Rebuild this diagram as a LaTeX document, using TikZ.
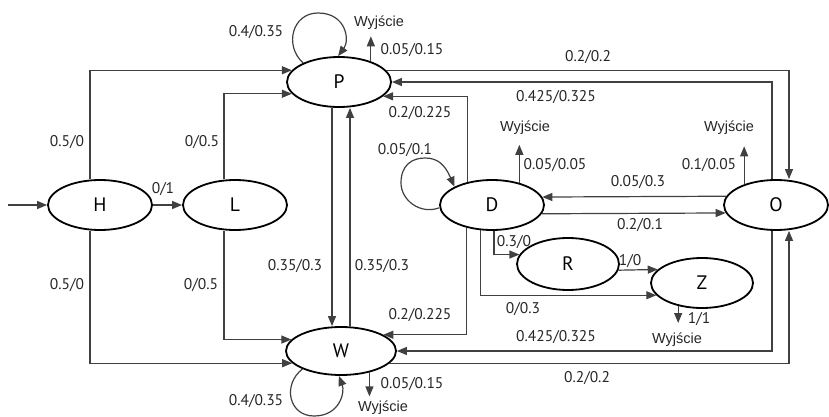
\documentclass[tikz,border=0pt]{standalone}
\usepackage{fontspec}
\setmainfont{PT Sans}
\newfontfamily\wyfont{Liberation Sans}
\usetikzlibrary{shapes.geometric,arrows.meta,calc}
\definecolor{ln}{HTML}{404040}
\begin{document}
\begin{tikzpicture}[x=1pt,y=-1pt,
  state/.style={ellipse,draw=black,line width=1.8pt,minimum width=104pt,minimum height=50pt,inner sep=0pt,font=\fontsize{19.5}{22}\selectfont},
  arr/.style={draw=ln,line width=1.2pt,-{Triangle[length=10pt,width=8pt]}},
  lab/.style={font=\fontsize{15.5}{17}\selectfont,inner sep=0pt,text=black!85},
  wy/.style={font=\wyfont\fontsize{14.5}{16}\selectfont,inner sep=0pt,text=black!85}]
\useasboundingbox (0,0) rectangle (829,417);
% states
\node[state] (H) at (100,205) {H};
\node[state] (L) at (235,205) {L};
\node[state] (P) at (339,82) {P};
\node[state,minimum width=110pt,minimum height=48pt] (W) at (341,351) {W};
\node[state] (D) at (492,205) {D};
\node[state] (O) at (776,205) {O};
\node[state,minimum width=102pt,minimum height=52pt] (R) at (568,264) {R};
\node[state,minimum width=102pt] (Z) at (702,283) {Z};
% free ends
\coordinate (in) at (8,205);
\path (P.33) ++(0,-25) coordinate (Pout);
\path (W.323.5) ++(0,24) coordinate (Wout);
\path (D.39.8) ++(0,-38) coordinate (Dout);
\path (O.147) ++(0,-38) coordinate (Oout);
\path (Z.224.1) ++(0,17) coordinate (Zout);
% connectors
\draw[arr] (in) -- (H);
\draw[arr] (H) -- (L);
\draw[arr] ([xshift=-10pt]H.north) |- (P.166.7);
\draw[arr] ([xshift=-10pt]H.south) |- (W.194.1);
\draw[arr] ([xshift=-11pt]L.north) |- (P.194.8);
\draw[arr] ([xshift=-11pt]L.south) |- (W.167.3);
\draw[arr] ([xshift=-7pt]P.south) -- ([xshift=-7pt]P.south |- W.north);
\draw[arr] ([xshift=11pt]P.south |- W.north) -- ([xshift=11pt]P.south);
\draw[arr] (P.14.8) -| ([xshift=13pt]O.north);
\draw[arr] ([xshift=-4pt]O.north) |- (P.east);
\draw[arr] (D.137.3) |- (P.342);
\draw[arr] (D.222.7) |- (W.21.3);
\draw[arr] ([xshift=-4pt]O.south) |- (W.east);
\draw[arr] (W.345.9) -| ([xshift=13pt]O.south);
\draw[arr] (O.170.8) -- (D.9.2);
\draw[arr] (D.350.8) -- (O.189.2);
\draw[arr] ([xshift=2pt]D.south) |- (R.169.3);
\draw[arr] (R.353.1) -- (Z.163.4);
\draw[arr] (D.245.7) |- (Z.195);
\draw[arr] (P.33) -- (Pout);
\draw[arr] (W.323.5) -- (Wout);
\draw[arr] (D.39.8) -- (Dout);
\draw[arr] (O.147) -- (Oout);
\draw[arr] (Z.224.1) -- (Zout);
% loops
\draw[arr] (P.152) .. controls (284,46) and (292,13) .. (318,13) .. controls (346,13) and (350,40) .. (P.92);
\draw[arr] (W.205) .. controls (282,385) and (289,416) .. (314,416) .. controls (340,416) and (345,392) .. (W.265);
\draw[arr] (D.183) .. controls (420,215) and (401,200) .. (401,183) .. controls (401,165) and (412,158) .. (425,158) .. controls (438,158) and (445,165) .. (D.154);
% labels
\node[lab] (t1) at (67,142) {0.5/0};
\node[lab] (t2) at (202,142) {0/0.5};
\node[lab] (t3) at (67,285) {0.5/0};
\node[lab] (t4) at (201,285) {0/0.5};
\node[lab] (t5) at (163,189) {0/1};
\node[lab] (t6) at (295,266) {0.35/0.3};
\node[lab] (t7) at (382,266) {0.35/0.3};
\node[lab] (t8) at (256,32) {0.4/0.35};
\node[wy] (w1) at (379,23) {Wyjście};
\node[lab] (t9) at (412,50) {0.05/0.15};
\node[lab] (t10) at (588,57) {0.2/0.2};
\node[lab] (t11) at (556,97) {0.425/0.325};
\node[lab] (t12) at (420,113) {0.2/0.225};
\node[wy] (w2) at (525,128) {Wyjście};
\node[wy] (w3) at (729,128) {Wyjście};
\node[lab] (t13) at (405,150) {0.05/0.1};
\node[lab] (t14) at (555,165) {0.05/0.05};
\node[lab] (t15) at (709,165) {0.1/0.05};
\node[lab] (t16) at (638,182) {0.05/0.3};
\node[lab] (t17) at (640,225) {0.2/0.1};
\node[lab] (t18) at (514,242) {0.3/0};
\node[lab] (t19) at (630,261) {1/0};
\node[lab] (t20) at (523,309) {0/0.3};
\node[lab] (t21) at (699,319) {1/1};
\node[wy] (w4) at (677,340) {Wyjście};
\node[lab] (t22) at (420,315) {0.2/0.225};
\node[lab] (t23) at (556,337) {0.425/0.325};
\node[lab] (t24) at (587,378) {0.2/0.2};
\node[lab] (t25) at (412,384) {0.05/0.15};
\node[wy] (w5) at (383,408) {Wyjście};
\node[lab] (t26) at (256,401) {0.4/0.35};
\end{tikzpicture}
\end{document}
